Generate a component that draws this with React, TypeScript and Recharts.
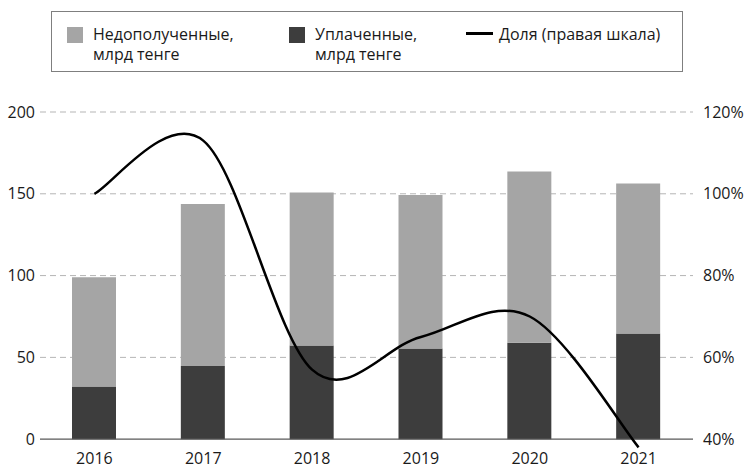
import {
  ComposedChart,
  Bar,
  Line,
  XAxis,
  YAxis,
  CartesianGrid,
  ReferenceLine,
} from "recharts";

const years = ["2016", "2017", "2018", "2019", "2020", "2021"];
const unpaid = [66.8, 98.9, 93.6, 93.8, 104.6, 91.7];
const paid = [32.2, 44.8, 57.2, 55.4, 59, 64.6];
const share = [100, 113, 57, 65, 70, 38];
const leftTicks = [0, 50, 100, 150, 200];
const gridValues = [50, 100, 150, 200];
const rightTicks = [40, 60, 80, 100, 120];

const font = "'Open Sans', sans-serif";

// smooth line like the office "smoothed line" (catmull-rom, 1/6 tangents)
const smoothCurve = (context: any) => {
  let pts: number[][] = [];
  return {
    areaStart() {},
    areaEnd() {},
    lineStart() {
      pts = [];
    },
    lineEnd() {
      const n = pts.length;
      if (!n) return;
      context.moveTo(pts[0][0], pts[0][1]);
      for (let i = 0; i < n - 1; i++) {
        const p0 = pts[Math.max(i - 1, 0)];
        const p1 = pts[i];
        const p2 = pts[i + 1];
        const p3 = pts[Math.min(i + 2, n - 1)];
        context.bezierCurveTo(
          p1[0] + (p2[0] - p0[0]) / 6,
          p1[1] + (p2[1] - p0[1]) / 6,
          p2[0] - (p3[0] - p1[0]) / 6,
          p2[1] - (p3[1] - p1[1]) / 6,
          p2[0],
          p2[1]
        );
      }
    },
    point(x: number, y: number) {
      pts.push([+x, +y]);
    },
  };
};

const data = years.map((year, i) => ({
  year,
  paid: paid[i],
  unpaid: unpaid[i],
  share: share[i],
}));

const textStyle: React.CSSProperties = {
  position: "absolute",
  fontFamily: font,
  fontSize: 16,
  lineHeight: "20px",
  color: "#1a1a1a",
  whiteSpace: "nowrap",
};

const LegendBox = () => (
  <div
    style={{
      position: "absolute",
      left: 51,
      top: 11,
      width: 632,
      height: 61,
      border: "1px solid #7f7f7f",
      boxSizing: "border-box",
      background: "#fff",
    }}
  >
    <div style={{ position: "absolute", left: 15, top: 15, width: 16, height: 16, background: "#a5a5a5" }} />
    <div style={{ ...textStyle, left: 41, top: 12 }}>
      Недополученные,
      <br />
      млрд тенге
    </div>
    <div style={{ position: "absolute", left: 237, top: 15, width: 16, height: 16, background: "#3d3d3d" }} />
    <div style={{ ...textStyle, left: 263, top: 12 }}>
      Уплаченные,
      <br />
      млрд тенге
    </div>
    <div style={{ position: "absolute", left: 414, top: 20, width: 27, height: 2.5, background: "#000" }} />
    <div style={{ ...textStyle, left: 447, top: 12 }}>Доля (правая шкала)</div>
  </div>
);

const App = () => {
  return (
    <div style={{ position: "absolute", left: 0, top: 0, width: 747, height: 469, background: "#fff" }}>
      <ComposedChart
        width={747}
        height={469}
        data={data}
        margin={{ top: 112, right: 0, bottom: 0, left: 0 }}
      >
        <CartesianGrid
          yAxisId="left"
          vertical={false}
          horizontalValues={gridValues}
          stroke="#b5b5b5"
          strokeDasharray="6 4"
        />
        <XAxis
          dataKey="year"
          height={20}
          axisLine={false}
          tickLine={false}
          tickSize={0}
          tickMargin={4}
          tick={{ fontSize: 16, fill: "#1a1a1a", fontFamily: font }}
        />
        <YAxis
          yAxisId="left"
          width={40}
          domain={[-6, 200]}
          ticks={leftTicks}
          allowDataOverflow
          axisLine={false}
          tickLine={false}
          tickSize={0}
          tickMargin={5}
          tick={{ fontSize: 16, fill: "#1a1a1a", fontFamily: font }}
        />
        <YAxis
          yAxisId="right"
          orientation="right"
          width={54}
          domain={[37.6, 120]}
          ticks={rightTicks}
          allowDataOverflow
          axisLine={false}
          tickLine={false}
          tickSize={0}
          tickMargin={10}
          tickFormatter={(v) => `${v}%`}
          tick={{ fontSize: 16, fill: "#1a1a1a", fontFamily: font, textAnchor: "start" }}
        />
        <Bar
          yAxisId="left"
          dataKey="paid"
          stackId="a"
          fill="#3d3d3d"
          barSize={44}
          isAnimationActive={false}
        />
        <Bar
          yAxisId="left"
          dataKey="unpaid"
          stackId="a"
          fill="#a5a5a5"
          barSize={44}
          isAnimationActive={false}
        />
        <ReferenceLine yAxisId="left" y={0} stroke="#595959" strokeWidth={1.2} />
        <Line
          yAxisId="right"
          dataKey="share"
          type={smoothCurve as any}
          stroke="#000"
          strokeWidth={2.5}
          dot={false}
          isAnimationActive={false}
        />
      </ComposedChart>
      <LegendBox />
    </div>
  );
};

export default App;
